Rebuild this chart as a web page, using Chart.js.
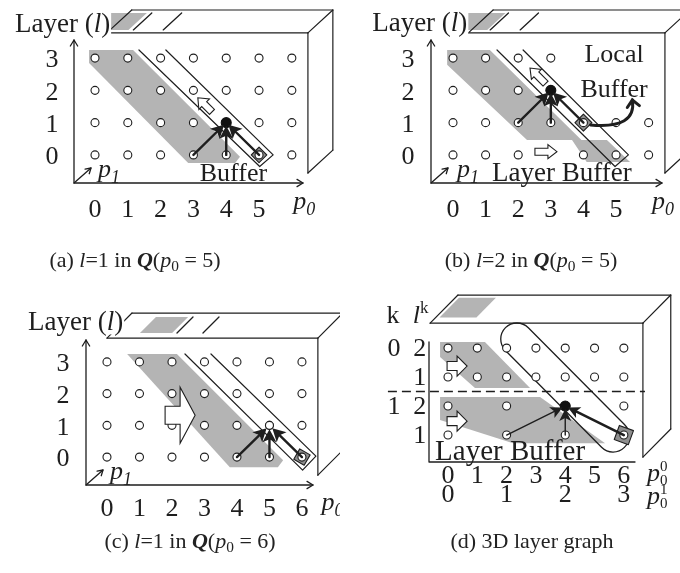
<!DOCTYPE html>
<html><head><meta charset="utf-8">
<script src="https://cdn.jsdelivr.net/npm/chart.js@4/dist/chart.umd.min.js"></script>
<style>
body{margin:0;background:#fff;width:680px;height:573px;position:relative;overflow:hidden}
canvas{position:absolute}
.cap{position:absolute;font-family:"Liberation Serif","Times New Roman",serif;font-size:22px;line-height:30px;color:#222;white-space:nowrap;transform:translateX(-50%)}
.cap sub{font-size:0.7em;vertical-align:-0.25em;line-height:0}
</style></head><body>
<canvas id="ca" width="340" height="280" style="left:0;top:0"></canvas>
<canvas id="cb" width="340" height="280" style="left:340px;top:0"></canvas>
<canvas id="cc" width="340" height="293" style="left:0;top:280px"></canvas>
<canvas id="cd" width="340" height="293" style="left:340px;top:280px"></canvas>
<div class="cap" style="left:135px;top:245px">(a) <i>l</i>=1 in <b><i>Q</i></b>(<i>p</i><sub>0</sub> = 5)</div>
<div class="cap" style="left:531px;top:245px">(b) <i>l</i>=2 in <b><i>Q</i></b>(<i>p</i><sub>0</sub> = 5)</div>
<div class="cap" style="left:190px;top:526px">(c) <i>l</i>=1 in <b><i>Q</i></b>(<i>p</i><sub>0</sub> = 6)</div>
<div class="cap" style="left:532px;top:526px">(d) 3D layer graph</div>
<script>
const FAM = '"Liberation Serif","Times New Roman",serif';
const INK = '#1e1e1e';
const GRAY = '#b4b4b4';

// ---------- shared grid / ticks ----------
const gridX = [0,1,2,3,4,5,6];
const gridL = [0,1,2,3];
const tickX05 = ['0','1','2','3','4','5'];
const tickX06 = ['0','1','2','3','4','5','6'];
const tickL = ['0','1','2','3'];

// ---------- panel (a) ----------
const aHidden = [];
const aTarget = [4,1];
const aSources = [[3,0],[4,0],[5,0]];
const aDiamond = [5,0];
const aBand = [[-0.18,3.25],[1.16,3.25],[4.42,-0.06],[4.27,-0.25],[2.84,-0.25],[-0.18,2.85]];
const aBufferLine = [[1.34,3.25],[5.02,-0.36],[5.43,0.0],[2.16,3.25]];
const aBlockArrows = [[3.35,1.55,135]];
const aTopGray = [-0.2,0.92];
const aTopSlashes = [1.07,1.98];

// ---------- panel (b) ----------
const bHidden = [[4,3],[5,3],[6,3],[4,2],[5,2],[6,2],[3,0]];
const bTarget = [3,2];
const bSources = [[2,1],[3,1],[4,1]];
const bDiamond = [4,1];
const bBand = [[-0.18,3.25],[1.13,3.25],[3.94,0.46],[4.72,0.46],[5.43,-0.22],[4.1,-0.22],[3.65,0.46],[2.27,0.46],[-0.18,2.79]];
const bBufferLine = [[1.35,3.25],[4.97,-0.36],[5.38,0.0],[2.15,3.25]];
const bBlockArrows = [[2.6,2.45,135],[2.85,0.1,0]];
const bCurve = [[4.22,0.93],[5.64,0.8],[5.5,1.7]];
const bTopGray = [-0.2,0.95];
const bTopSlashes = [1.04,1.96];

// ---------- panel (c) ----------
const cHidden = [];
const cTarget = [5,1];
const cSources = [[4,0],[5,0],[6,0]];
const cDiamond = [6,0];
const cBand = [[0.62,3.25],[2.15,3.25],[5.42,-0.1],[5.26,-0.32],[3.78,-0.32]];
const cBufferLine = [[2.4,3.25],[6.02,-0.41],[6.43,0.03],[3.2,3.25]];
const cBlockArrows = [[2.25,1.32,0]];
const cTopGray = [0.86,1.85];
const cTopSlashes = [2.0,2.8];

// ---------- panel (d) ----------
const dRowX = [[0,2,4,6],[0,2,4,6],[0,1,2,3,4,5,6],[0,1,2,3,4,5,6]];
const dRowLayer = ['1','2','1','2'];
const dRowK = ['','1','','0'];
const dTarget = [4,1];
const dSources = [[2,0],[4,0],[6,0]];
const dDiamond = [6,0];
const dBandUpper = [[-0.27,3.21],[1.26,3.21],[2.8,1.62],[0.92,1.62],[-0.27,2.69]];
const dBandLower = [[-0.27,1.31],[3.14,1.31],[5.36,-0.28],[2.22,-0.28],[-0.27,0.52]];
const dCapsule = [[2.35,3.31],[5.63,-0.03]];
const dBlockArrows = [[0.31,2.38,0],[0.31,0.48,0]];
const dTickP00 = ['0','1','2','3','4','5','6'];
const dTickP01 = ['0','1','2','3'];
const dTickP01At = [0,2,4,6];
const dSplit = 1.5;
const dTopGray = [-0.48,0.78];

// ---------- helpers ----------
function gridPoints(hidden, target, filled){
  const out=[];
  gridL.forEach(l=>gridX.forEach(x=>{
    if(hidden.some(h=>h[0]===x&&h[1]===l)) return;
    if(filled && target[0]===x && target[1]===l) return;
    out.push({x:x,y:l});
  }));
  return out;
}
function P(ch,x,y){return [ch.scales.x.getPixelForValue(x), ch.scales.y.getPixelForValue(y)];}
function path(ctx,ch,pts,close){
  ctx.beginPath();
  pts.forEach((p,i)=>{const q=P(ch,p[0],p[1]); if(i) ctx.lineTo(q[0],q[1]); else ctx.moveTo(q[0],q[1]);});
  if(close) ctx.closePath();
}
function fnt(p,size){
  const s=Math.round(size*(p.s||1));
  return (p.b?'bold ':'')+(p.i?'italic ':'')+s+'px '+FAM;
}
function rich(ctx,parts,x,y,align,size,bg){
  let w=0; parts.forEach(p=>{ctx.font=fnt(p,size); if(!p.na) w+=ctx.measureText(p.t).width;});
  let cx = align==='center'? x-w/2 : align==='right'? x-w : x;
  if(bg){ctx.fillStyle='#fff'; ctx.fillRect(cx-3,y-size*0.82,w+4,size*0.98);}
  ctx.fillStyle=INK;
  parts.forEach(p=>{ctx.font=fnt(p,size); ctx.fillText(p.t,cx,y+(p.dy||0)); if(!p.na) cx+=ctx.measureText(p.t).width;});
}
function chevron(ctx,x,y,ang,len,spread){
  ctx.beginPath();
  ctx.moveTo(x-len*Math.cos(ang-spread), y-len*Math.sin(ang-spread));
  ctx.lineTo(x,y);
  ctx.lineTo(x-len*Math.cos(ang+spread), y-len*Math.sin(ang+spread));
  ctx.stroke();
}
function blackArrow(ctx,s,t,lw,h,w,gap){
  const dx=t[0]-s[0], dy=t[1]-s[1], L=Math.hypot(dx,dy), ux=dx/L, uy=dy/L;
  const tx=t[0]-ux*gap, ty=t[1]-uy*gap, bx=tx-ux*h, by=ty-uy*h;
  ctx.lineWidth=lw; ctx.beginPath(); ctx.moveTo(s[0],s[1]); ctx.lineTo(bx+ux*3,by+uy*3); ctx.stroke();
  ctx.beginPath(); ctx.moveTo(tx,ty); ctx.lineTo(bx-uy*w,by+ux*w); ctx.lineTo(bx+ux*3,by+uy*3); ctx.lineTo(bx+uy*w,by-ux*w); ctx.closePath(); ctx.fill();
}
function blockArrow(ctx,c,ang,sz){
  const [L,w1,w2,h]=sz;
  ctx.save(); ctx.translate(c[0],c[1]); ctx.rotate(-ang*Math.PI/180);
  ctx.beginPath();
  ctx.moveTo(-L/2,-w1); ctx.lineTo(L/2-h,-w1); ctx.lineTo(L/2-h,-w2); ctx.lineTo(L/2,0);
  ctx.lineTo(L/2-h,w2); ctx.lineTo(L/2-h,w1); ctx.lineTo(-L/2,w1); ctx.closePath();
  ctx.fillStyle='#fff'; ctx.fill(); ctx.lineWidth=1.1; ctx.strokeStyle=INK; ctx.stroke();
  ctx.restore();
}

const SPECS = {};
const diagramPlugin = {
  id:'diagram',
  beforeDatasetsDraw(ch){
    const s=SPECS[ch.canvas.id], ctx=ch.ctx, a=ch.chartArea;
    ctx.save();
    ctx.strokeStyle=INK; ctx.fillStyle=INK; ctx.lineCap='round'; ctx.lineJoin='round';
    ctx.fillStyle=GRAY;
    s.bands.forEach(b=>{path(ctx,ch,b,true); ctx.fill();});
    const B=s.box, f1=s.topDepth[0], f2=s.topDepth[1];
    path(ctx,ch,[[s.topGray[0]+f1*B.dx,B.lT+f1*B.dl],[s.topGray[1]+f1*B.dx,B.lT+f1*B.dl],[s.topGray[1]+f2*B.dx,B.lT+f2*B.dl],[s.topGray[0]+f2*B.dx,B.lT+f2*B.dl]],true);
    ctx.fill();
    ctx.lineWidth=1.3;
    (s.slashes||[]).forEach(x=>{path(ctx,ch,[[x+f1*B.dx,B.lT+f1*B.dl],[x+f2*B.dx,B.lT+f2*B.dl]]); ctx.stroke();});
    ctx.lineWidth=1.2;
    const segs=[[B.xL,B.lT,B.xR,B.lT],[B.xL+B.dx,B.lT+B.dl,B.xR+B.dx,B.lT+B.dl],[B.xL,B.lT,B.xL+B.dx,B.lT+B.dl],
      [B.xR,B.lT,B.xR+B.dx,B.lT+B.dl],[B.xR,B.lT,B.xR,B.lB],[B.xR+B.dx,B.lT+B.dl,B.xR+B.dx,B.lB+B.dl],[B.xR,B.lB,B.xR+B.dx,B.lB+B.dl]];
    segs.forEach(g=>{path(ctx,ch,[[g[0],g[1]],[g[2],g[3]]]); ctx.stroke();});
    if(s.buffer){ctx.lineWidth=1.2; path(ctx,ch,s.buffer,false); ctx.stroke();}
    if(s.capsule){
      const c1=P(ch,s.capsule[0][0],s.capsule[0][1]), c2=P(ch,s.capsule[1][0],s.capsule[1][1]);
      const r=ch.scales.x.getPixelForValue(0.55)-ch.scales.x.getPixelForValue(0);
      const th=Math.atan2(c2[1]-c1[1],c2[0]-c1[0]);
      ctx.lineWidth=1.3; ctx.beginPath();
      ctx.arc(c2[0],c2[1],r,th-Math.PI/2,th+Math.PI/2);
      ctx.arc(c1[0],c1[1],r,th+Math.PI/2,th+3*Math.PI/2);
      ctx.closePath(); ctx.stroke();
    }
    if(s.split!==undefined){
      ctx.save(); ctx.setLineDash([9,5]); ctx.lineWidth=1.4; ctx.lineCap='butt';
      path(ctx,ch,[[s.splitRange[0],s.split],[s.splitRange[1],s.split]]); ctx.stroke(); ctx.restore();
    }
    ctx.lineWidth=1.3;
    ctx.beginPath(); ctx.moveTo(a.left,a.top); ctx.lineTo(a.left,a.bottom); ctx.lineTo(a.right,a.bottom); ctx.stroke();
    if(s.axisArrows){
      chevron(ctx,a.left,a.top,-Math.PI/2,7,0.55);
      chevron(ctx,a.right,a.bottom,0,7,0.55);
      ctx.beginPath(); ctx.moveTo(a.left,a.bottom); ctx.lineTo(a.left+17,a.bottom-15); ctx.stroke();
      chevron(ctx,a.left+17,a.bottom-15,Math.atan2(-15,17),6,0.55);
    }
    const d=P(ch,s.diamond[0],s.diamond[1]);
    ctx.save(); ctx.translate(d[0],d[1]); ctx.rotate(s.diamondRot*Math.PI/180);
    ctx.fillStyle='#8e8e8e'; ctx.fillRect(-s.diamondSize,-s.diamondSize,2*s.diamondSize,2*s.diamondSize);
    ctx.lineWidth=1.1; ctx.strokeRect(-s.diamondSize,-s.diamondSize,2*s.diamondSize,2*s.diamondSize);
    ctx.restore();
    ctx.restore();
  },
  afterDatasetsDraw(ch){
    const s=SPECS[ch.canvas.id], ctx=ch.ctx;
    ctx.save(); ctx.strokeStyle=INK; ctx.fillStyle=INK; ctx.lineCap='round'; ctx.lineJoin='miter';
    const t=P(ch,s.target[0],s.target[1]);
    s.sources.forEach((src,i)=>{
      blackArrow(ctx,P(ch,src[0],src[1]),t,s.arrowLW[i],s.head[0],s.head[1],s.gap);
    });
    (s.blocks||[]).forEach(b=>blockArrow(ctx,P(ch,b[0],b[1]),b[2],s.blockSize));
    if(s.curve){
      const p0=P(ch,s.curve[0][0],s.curve[0][1]), p1=P(ch,s.curve[1][0],s.curve[1][1]), p2=P(ch,s.curve[2][0],s.curve[2][1]);
      ctx.lineWidth=3; ctx.beginPath(); ctx.moveTo(p0[0],p0[1]); ctx.quadraticCurveTo(p1[0],p1[1],p2[0],p2[1]); ctx.stroke();
      chevron(ctx,p2[0],p2[1],Math.atan2(p2[1]-p1[1],p2[0]-p1[0]),9,0.75);
    }
    ctx.textBaseline='alphabetic';
    s.texts.forEach(tx=>{const q=P(ch,tx.x,tx.y); rich(ctx,tx.parts,q[0],q[1],tx.align,tx.size||26,tx.bg);});
    ctx.restore();
  }
};

function digitsBelow(labels,at,y){return labels.map((t,i)=>({x:at[i],y:y,parts:[{t:t}],align:'center'}));}
function digitsLeft(labels,at,x){return labels.map((t,i)=>({x:x,y:at[i]-0.29,parts:[{t:t}],align:'center'}));}
const layerTitle=(x,y)=>({x:x,y:y,parts:[{t:'Layer ('},{t:'l',i:true},{t:')'}],align:'left',bg:true,size:27});
const pSub=(x,y,sub)=>({x:x,y:y,parts:[{t:'p',i:true},{t:sub,i:true,s:0.7,dy:6}],align:'left'});
const pSupSub=(x,y,sup,sub)=>({x:x,y:y,parts:[{t:'p',i:true},{t:sup,s:0.58,dy:-10,na:true},{t:sub,s:0.58,dy:4}],align:'left'});

SPECS.ca = {
  pad:{left:74,right:37,top:40,bottom:97}, xr:[-0.64,6.34], yr:[-0.87,3.56],
  box:{xL:0.36,xR:6.49,lT:3.78,lB:-0.56,dx:0.76,dl:0.71}, topDepth:[0.13,0.87],
  topGray:aTopGray, slashes:aTopSlashes, bands:[aBand], buffer:aBufferLine,
  points:gridPoints(aHidden,aTarget,true), target:aTarget, filled:true, sources:aSources,
  arrowLW:[2.4,2.4,2.4], head:[13,7], gap:3,
  diamond:aDiamond, diamondSize:5.5, diamondRot:45, blocks:aBlockArrows, blockSize:[20,3.5,7.5,9],
  axisArrows:true,
  texts:[].concat(digitsBelow(tickX05,gridX,-1.92), digitsLeft(tickL,gridL,-1.31),
    [layerTitle(-2.44,3.81), {x:4.22,y:-0.8,parts:[{t:'Buffer'}],align:'center'},
     pSub(0.09,-0.68,'1'), pSub(6.04,-1.67,'0')])
};
SPECS.cb = {
  pad:{left:91,right:18,top:40,bottom:97}, xr:[-0.675,6.41], yr:[-0.87,3.56],
  box:{xL:0.47,xR:6.5,lT:3.78,lB:-0.56,dx:0.76,dl:0.71}, topDepth:[0.13,0.87],
  topGray:bTopGray, slashes:bTopSlashes, bands:[bBand], buffer:bBufferLine,
  points:gridPoints(bHidden,bTarget,true), target:bTarget, filled:true, sources:bSources,
  arrowLW:[2.4,2.4,2.4], head:[13,7], gap:3,
  diamond:bDiamond, diamondSize:6, diamondRot:45, blocks:bBlockArrows, blockSize:[22,3.5,7,9],
  curve:bCurve, axisArrows:true,
  texts:[].concat(digitsBelow(tickX05,gridX,-1.92), digitsLeft(tickL,gridL,-1.38),
    [layerTitle(-2.48,3.84), {x:4.94,y:2.88,parts:[{t:'Local'}],align:'center'},
     {x:4.94,y:1.8,parts:[{t:'Buffer'}],align:'center'},
     {x:3.34,y:-0.8,parts:[{t:'Layer Buffer'}],align:'center',size:27},
     pSub(0.12,-0.68,'1'), pSub(6.1,-1.67,'0')])
};
SPECS.cc = {
  pad:{left:86,right:27,top:60,bottom:88}, xr:[-0.646,6.34], yr:[-0.88,3.69],
  box:{xL:0,xR:6.49,lT:3.75,lB:-0.57,dx:0.77,dl:0.79}, topDepth:[0.2,0.84],
  topGray:cTopGray, slashes:cTopSlashes, bands:[cBand], buffer:cBufferLine,
  points:gridPoints(cHidden,cTarget,false), target:cTarget, filled:false, sources:cSources,
  arrowLW:[2.4,2.4,2.4], head:[13,7], gap:4,
  diamond:cDiamond, diamondSize:6, diamondRot:30, blocks:cBlockArrows, blockSize:[30,9,28,15],
  axisArrows:true,
  texts:[].concat(digitsBelow(tickX06,gridX,-1.86), digitsLeft(tickL,gridL,-1.35),
    [layerTitle(-2.43,4.0), pSub(0.09,-0.69,'1'), pSub(6.6,-1.67,'0')])
};
const dPts=[]; dRowX.forEach((xs,r)=>xs.forEach(x=>{ if(!(x===dTarget[0]&&r===dTarget[1])) dPts.push({x:x,y:r}); }));
SPECS.cd = {
  pad:{left:89,right:45,top:62,bottom:111}, xr:[-0.648,6.38], yr:[-0.93,3.21],
  box:{xL:-0.61,xR:6.65,lT:3.86,lB:-0.76,dx:0.95,dl:0.97}, topDepth:[0.2,0.9],
  topGray:dTopGray, slashes:[], bands:[dBandUpper,dBandLower], capsule:dCapsule,
  split:dSplit, splitRange:[-2.05,6.72],
  points:dPts, target:dTarget, filled:true, sources:dSources,
  arrowLW:[1.4,1.4,2.6], head:[12,6], gap:3,
  diamond:dDiamond, diamondSize:7.5, diamondRot:20, blocks:dBlockArrows, blockSize:[20,4.5,10,10],
  axisArrows:false,
  texts:[].concat(digitsBelow(dTickP00,gridX,-1.66), digitsBelow(dTickP01,dTickP01At,-2.31),
    digitsLeft(dRowLayer,[0,1,2,3],-0.96), digitsLeft(dRowK,[0,1,2,3],-1.84),
    [{x:-1.88,y:3.86,parts:[{t:'k'}],align:'center'},
     {x:-1.2,y:3.86,parts:[{t:'l',i:true},{t:'k',s:0.65,dy:-10}],align:'left'},
     {x:-0.44,y:-0.86,parts:[{t:'Layer Buffer'}],align:'left',size:29},
     pSupSub(6.79,-1.6,'0','0'), pSupSub(6.79,-2.38,'1','0')])
};

Object.keys(SPECS).forEach(id=>{
  const s=SPECS[id];
  new Chart(document.getElementById(id),{
    type:'scatter',
    data:{datasets:[
      {data:s.points, pointRadius:4, pointBackgroundColor:'#fff', pointBorderColor:INK, pointBorderWidth:1.1, pointHoverRadius:4},
      {data:[{x:s.target[0],y:s.target[1]}], pointRadius:s.filled?5:4, pointBackgroundColor:s.filled?'#111':'#fff', pointBorderColor:'#111', pointBorderWidth:1.1}
    ]},
    options:{responsive:false, animation:false, events:[],
      layout:{padding:s.pad},
      plugins:{legend:{display:false}, tooltip:{enabled:false}},
      scales:{x:{type:'linear',display:false,min:s.xr[0],max:s.xr[1]}, y:{type:'linear',display:false,min:s.yr[0],max:s.yr[1]}}
    },
    plugins:[diagramPlugin]
  });
});
</script>
</body></html>
